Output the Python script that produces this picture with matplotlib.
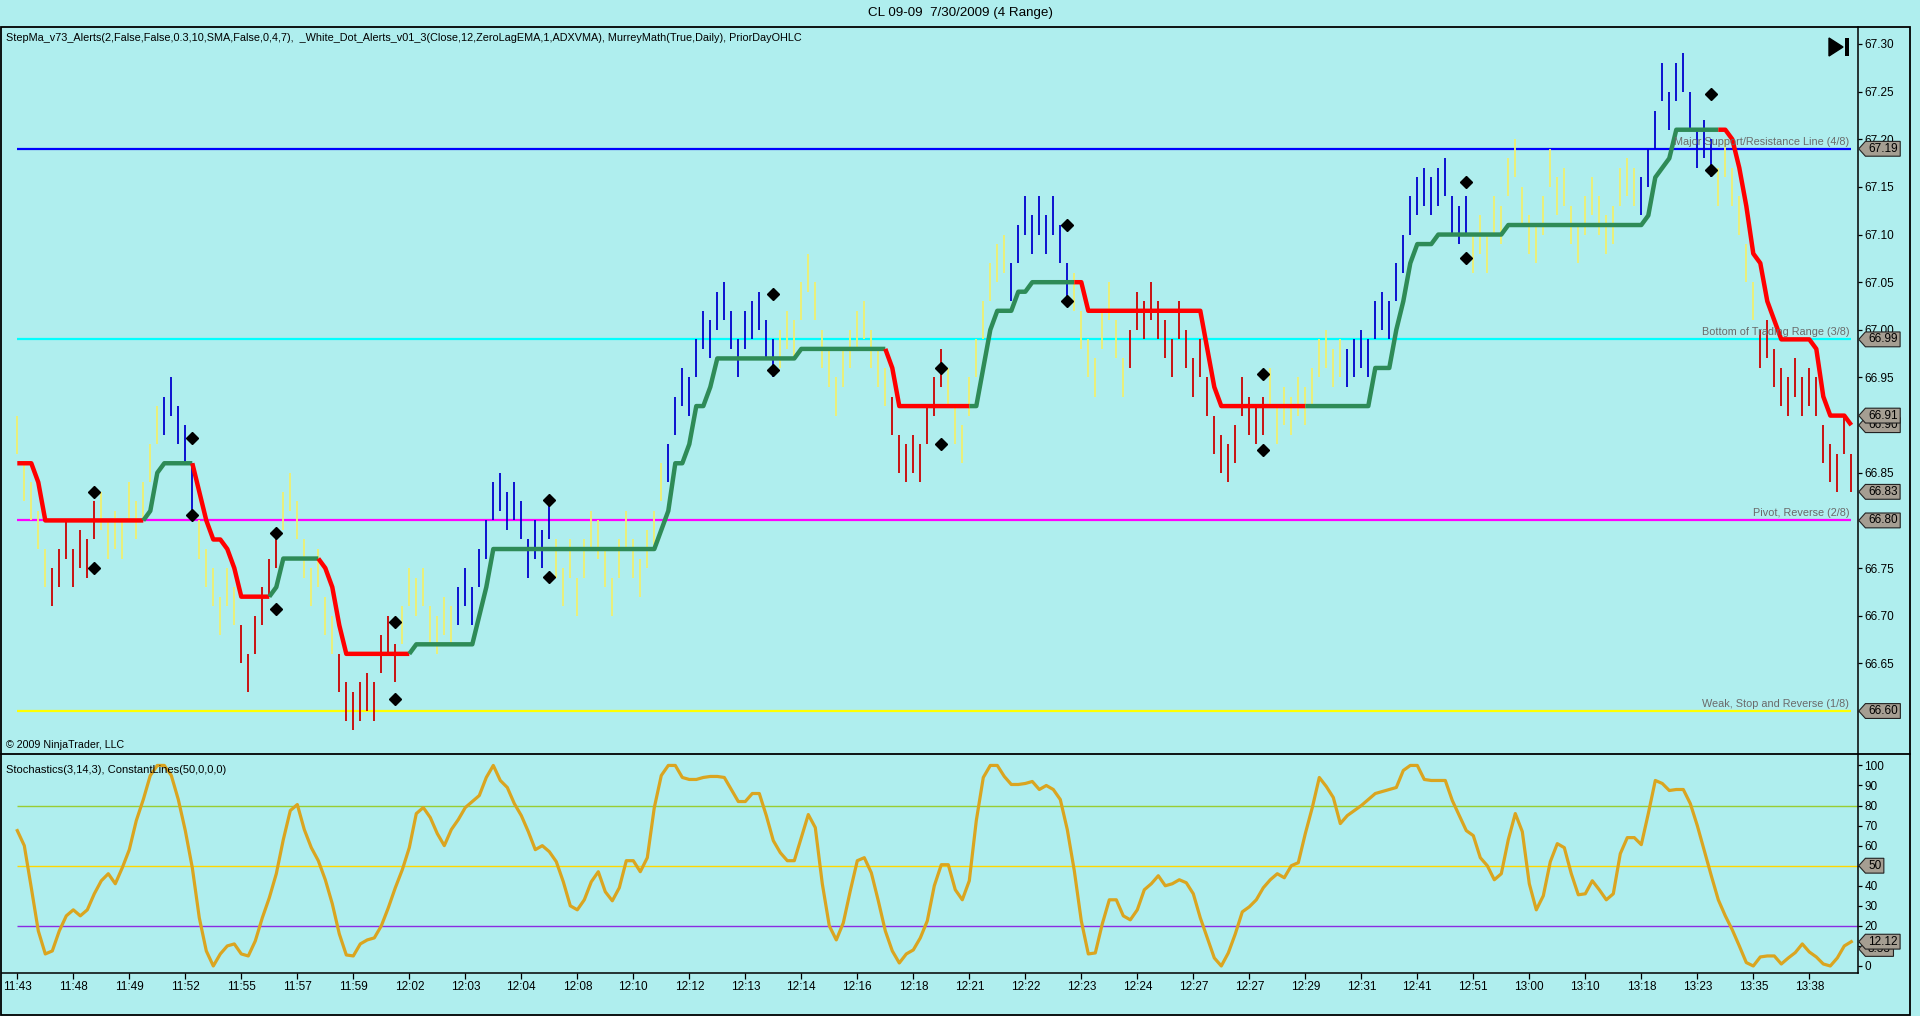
import numpy as np
import matplotlib
matplotlib.use("Agg")
import matplotlib.pyplot as plt
from matplotlib.lines import Line2D
from matplotlib.patches import Polygon, Rectangle
from matplotlib.path import Path

plt.rcParams["font.family"] = ["Liberation Sans", "DejaVu Sans"]

# ---- data (CL 09-09, 4 tick range bars) ----
bar_high = [
    66.91, 66.86, 66.84, 66.81, 66.77, 66.75, 66.77, 66.80, 66.77, 66.79,
    66.78, 66.82, 66.83, 66.80, 66.81, 66.80, 66.84, 66.82, 66.84, 66.88,
    66.92, 66.93, 66.95, 66.92, 66.90, 66.86, 66.80, 66.77, 66.75, 66.72,
    66.75, 66.73, 66.69, 66.66, 66.70, 66.73, 66.76, 66.79, 66.83, 66.85,
    66.82, 66.78, 66.75, 66.77, 66.72, 66.70, 66.66, 66.63, 66.62, 66.63,
    66.64, 66.63, 66.68, 66.70, 66.67, 66.71, 66.75, 66.74, 66.75, 66.71,
    66.70, 66.72, 66.71, 66.73, 66.75, 66.73, 66.77, 66.80, 66.84, 66.85,
    66.83, 66.84, 66.82, 66.78, 66.80, 66.79, 66.82, 66.78, 66.75, 66.78,
    66.74, 66.78, 66.81, 66.80, 66.77, 66.74, 66.78, 66.81, 66.78, 66.76,
    66.79, 66.81, 66.86, 66.88, 66.93, 66.96, 66.95, 66.99, 67.02, 67.01,
    67.04, 67.05, 67.02, 66.99, 67.02, 67.03, 67.04, 67.01, 66.99, 67.00,
    67.02, 67.01, 67.05, 67.08, 67.05, 67.00, 66.98, 66.95, 66.98, 67.00,
    67.02, 67.03, 67.00, 66.98, 66.96, 66.93, 66.89, 66.88, 66.89, 66.88,
    66.92, 66.95, 66.98, 66.96, 66.92, 66.90, 66.95, 66.99, 67.03, 67.07,
    67.09, 67.10, 67.07, 67.11, 67.14, 67.12, 67.14, 67.12, 67.14, 67.11,
    67.07, 67.06, 67.02, 66.99, 66.97, 67.02, 67.05, 67.01, 66.97, 67.00,
    67.04, 67.03, 67.05, 67.03, 67.01, 66.99, 67.03, 67.00, 66.97, 66.99,
    66.95, 66.91, 66.89, 66.88, 66.90, 66.95, 66.93, 66.92, 66.93, 66.96,
    66.92, 66.94, 66.93, 66.95, 66.94, 66.96, 66.99, 67.00, 66.98, 66.99,
    66.98, 66.99, 67.00, 66.99, 67.03, 67.04, 67.03, 67.07, 67.10, 67.14,
    67.16, 67.17, 67.16, 67.17, 67.18, 67.14, 67.13, 67.14, 67.10, 67.12,
    67.10, 67.14, 67.13, 67.18, 67.20, 67.15, 67.12, 67.11, 67.14, 67.19,
    67.16, 67.17, 67.13, 67.11, 67.14, 67.16, 67.14, 67.12, 67.13, 67.17,
    67.18, 67.17, 67.16, 67.19, 67.23, 67.28, 67.25, 67.28, 67.29, 67.25,
    67.21, 67.22, 67.20, 67.17, 67.20, 67.17, 67.14, 67.09, 67.05, 67.00,
    67.01, 66.98, 66.96, 66.95, 66.97, 66.95, 66.96, 66.95, 66.90, 66.88,
    66.87, 66.91, 66.87,
]
bar_low = [
    66.87, 66.82, 66.80, 66.77, 66.73, 66.71, 66.73, 66.76, 66.73, 66.75,
    66.74, 66.78, 66.79, 66.76, 66.77, 66.76, 66.80, 66.78, 66.80, 66.84,
    66.88, 66.89, 66.91, 66.88, 66.86, 66.81, 66.76, 66.73, 66.71, 66.68,
    66.71, 66.69, 66.65, 66.62, 66.66, 66.69, 66.72, 66.75, 66.79, 66.81,
    66.78, 66.74, 66.71, 66.73, 66.68, 66.66, 66.62, 66.59, 66.58, 66.59,
    66.60, 66.59, 66.64, 66.66, 66.63, 66.67, 66.71, 66.70, 66.71, 66.67,
    66.66, 66.68, 66.67, 66.69, 66.71, 66.69, 66.73, 66.76, 66.80, 66.81,
    66.79, 66.80, 66.78, 66.74, 66.76, 66.75, 66.78, 66.74, 66.71, 66.74,
    66.70, 66.74, 66.77, 66.76, 66.73, 66.70, 66.74, 66.77, 66.74, 66.72,
    66.75, 66.77, 66.82, 66.84, 66.89, 66.92, 66.91, 66.95, 66.98, 66.97,
    67.00, 67.01, 66.98, 66.95, 66.98, 66.99, 67.00, 66.97, 66.95, 66.96,
    66.98, 66.97, 67.01, 67.04, 67.01, 66.96, 66.94, 66.91, 66.94, 66.96,
    66.98, 66.99, 66.96, 66.94, 66.92, 66.89, 66.85, 66.84, 66.85, 66.84,
    66.88, 66.91, 66.94, 66.92, 66.88, 66.86, 66.91, 66.95, 66.99, 67.03,
    67.05, 67.06, 67.03, 67.07, 67.10, 67.08, 67.10, 67.08, 67.10, 67.07,
    67.03, 67.02, 66.98, 66.95, 66.93, 66.98, 67.01, 66.97, 66.93, 66.96,
    67.00, 66.99, 67.01, 66.99, 66.97, 66.95, 66.99, 66.96, 66.93, 66.95,
    66.91, 66.87, 66.85, 66.84, 66.86, 66.91, 66.89, 66.88, 66.89, 66.92,
    66.88, 66.90, 66.89, 66.91, 66.90, 66.92, 66.95, 66.96, 66.94, 66.95,
    66.94, 66.95, 66.96, 66.95, 66.99, 67.00, 66.99, 67.03, 67.06, 67.10,
    67.12, 67.13, 67.12, 67.13, 67.14, 67.10, 67.09, 67.10, 67.06, 67.08,
    67.06, 67.10, 67.09, 67.14, 67.16, 67.11, 67.08, 67.07, 67.10, 67.15,
    67.12, 67.13, 67.09, 67.07, 67.10, 67.12, 67.10, 67.08, 67.09, 67.13,
    67.14, 67.13, 67.12, 67.15, 67.19, 67.24, 67.21, 67.24, 67.25, 67.21,
    67.17, 67.18, 67.16, 67.13, 67.16, 67.13, 67.10, 67.05, 67.01, 66.96,
    66.97, 66.94, 66.92, 66.91, 66.93, 66.91, 66.92, 66.91, 66.86, 66.84,
    66.83, 66.87, 66.83,
]
# bar colour runs: y = neutral, b = up, r = down
bar_color_runs = [
    ("y", 5), ("r", 7), ("y", 9), ("b", 5), ("y", 6), ("r", 6), ("y", 8),
    ("r", 9), ("y", 8), ("b", 14), ("y", 16), ("b", 16), ("y", 16), ("r", 8),
    ("y", 9), ("b", 9), ("y", 8), ("r", 20), ("y", 11), ("b", 18), ("y", 24),
    ("b", 11), ("y", 6), ("r", 14),
]

step_value = [
    66.86, 66.86, 66.86, 66.84, 66.80, 66.80, 66.80, 66.80, 66.80, 66.80,
    66.80, 66.80, 66.80, 66.80, 66.80, 66.80, 66.80, 66.80, 66.80, 66.81,
    66.85, 66.86, 66.86, 66.86, 66.86, 66.86, 66.83, 66.80, 66.78, 66.78,
    66.77, 66.75, 66.72, 66.72, 66.72, 66.72, 66.72, 66.73, 66.76, 66.76,
    66.76, 66.76, 66.76, 66.76, 66.75, 66.73, 66.69, 66.66, 66.66, 66.66,
    66.66, 66.66, 66.66, 66.66, 66.66, 66.66, 66.66, 66.67, 66.67, 66.67,
    66.67, 66.67, 66.67, 66.67, 66.67, 66.67, 66.70, 66.73, 66.77, 66.77,
    66.77, 66.77, 66.77, 66.77, 66.77, 66.77, 66.77, 66.77, 66.77, 66.77,
    66.77, 66.77, 66.77, 66.77, 66.77, 66.77, 66.77, 66.77, 66.77, 66.77,
    66.77, 66.77, 66.79, 66.81, 66.86, 66.86, 66.88, 66.92, 66.92, 66.94,
    66.97, 66.97, 66.97, 66.97, 66.97, 66.97, 66.97, 66.97, 66.97, 66.97,
    66.97, 66.97, 66.98, 66.98, 66.98, 66.98, 66.98, 66.98, 66.98, 66.98,
    66.98, 66.98, 66.98, 66.98, 66.98, 66.96, 66.92, 66.92, 66.92, 66.92,
    66.92, 66.92, 66.92, 66.92, 66.92, 66.92, 66.92, 66.92, 66.96, 67.00,
    67.02, 67.02, 67.02, 67.04, 67.04, 67.05, 67.05, 67.05, 67.05, 67.05,
    67.05, 67.05, 67.05, 67.02, 67.02, 67.02, 67.02, 67.02, 67.02, 67.02,
    67.02, 67.02, 67.02, 67.02, 67.02, 67.02, 67.02, 67.02, 67.02, 67.02,
    66.98, 66.94, 66.92, 66.92, 66.92, 66.92, 66.92, 66.92, 66.92, 66.92,
    66.92, 66.92, 66.92, 66.92, 66.92, 66.92, 66.92, 66.92, 66.92, 66.92,
    66.92, 66.92, 66.92, 66.92, 66.96, 66.96, 66.96, 67.00, 67.03, 67.07,
    67.09, 67.09, 67.09, 67.10, 67.10, 67.10, 67.10, 67.10, 67.10, 67.10,
    67.10, 67.10, 67.10, 67.11, 67.11, 67.11, 67.11, 67.11, 67.11, 67.11,
    67.11, 67.11, 67.11, 67.11, 67.11, 67.11, 67.11, 67.11, 67.11, 67.11,
    67.11, 67.11, 67.11, 67.12, 67.16, 67.17, 67.18, 67.21, 67.21, 67.21,
    67.21, 67.21, 67.21, 67.21, 67.21, 67.20, 67.17, 67.13, 67.08, 67.07,
    67.03, 67.01, 66.99, 66.99, 66.99, 66.99, 66.99, 66.98, 66.93, 66.91,
    66.91, 66.91, 66.90,
]
# StepMA trend runs: r = falling, g = rising
step_color_runs = [
    ("r", 19), ("g", 7), ("r", 11), ("g", 7), ("r", 13), ("g", 68), ("r", 12),
    ("g", 15), ("r", 33), ("g", 59), ("r", 19),
]

stoch_k = [
    67.5, 60, 39, 17.5, 6, 7.5, 17.5, 25, 28, 25,
    28, 36, 42.5, 46, 41, 49, 58, 72.5, 83, 95,
    100, 100, 95, 83, 67.5, 49, 24, 7.5, 0, 6,
    10, 11, 6, 5, 12.5, 24, 34, 46, 63, 77.5,
    80.5, 68, 59, 52.5, 43, 31, 16, 5.5, 5, 11,
    13, 14, 20, 29, 39, 48, 59, 76, 79, 74,
    66, 60, 68, 73, 79, 82, 85, 94, 100, 92.5,
    89, 81, 75, 67, 58, 60, 57, 52, 42, 30,
    28, 33, 42, 47, 37, 32.5, 39, 52.5, 52.5, 47,
    54, 79, 95, 100, 100, 94, 93, 93, 94, 94.5,
    94.5, 94, 88, 82, 82, 86, 86, 75, 62.5, 56.5,
    52.5, 52.5, 64, 75.5, 69, 41, 20, 13, 21.5, 37.5,
    52.5, 54, 46.5, 32.5, 17.5, 7.5, 1.5, 6, 8, 14,
    22.5, 40, 50.5, 50.5, 38, 33, 42.5, 72.5, 94, 100,
    100, 94.5, 90.5, 90.5, 91, 92, 88, 90, 88, 83,
    68, 47.5, 22.5, 6, 6.5, 21, 33, 33, 25, 23,
    28, 38, 41, 45, 40, 41, 43, 41.5, 36, 24,
    14, 4, 0, 6.5, 16, 27, 29.5, 33, 39, 43,
    46, 44, 50, 51.5, 66, 79, 94, 89.5, 84, 71,
    75, 77.5, 80, 83, 86, 87, 88, 89, 97.5, 100,
    100, 93, 92.5, 92.5, 92.5, 82.5, 75, 67.5, 65, 54,
    50, 43, 46, 63, 76, 67, 41, 28, 35, 52,
    61, 59, 46, 35.5, 36, 42.5, 38, 33, 36, 56,
    64, 64, 60.5, 76, 92.5, 91, 87.5, 88, 88, 81,
    70, 57.5, 45, 33, 25, 18, 10, 1.7, 0, 4.5,
    5, 5, 1, 4, 6.7, 11, 7, 4.5, 1, 0,
    4, 10, 12.12,
]

diamond_bar = [11, 11, 25, 25, 37, 37, 54, 54, 76, 76, 108, 108,
               132, 132, 150, 150, 178, 178, 207, 207, 242, 242]
diamond_price = [66.830, 66.750, 66.886, 66.806, 66.787, 66.707, 66.693, 66.613,
                 66.821, 66.741, 67.038, 66.958, 66.960, 66.880, 67.110, 67.030,
                 66.954, 66.874, 67.155, 67.075, 67.248, 67.168]

murrey_values = [67.19, 66.99, 66.80, 66.60]
murrey_labels = ["Major Support/Resistance Line (4/8)", "Bottom of Trading Range (3/8)",
                 "Pivot, Reverse (2/8)", "Weak, Stop and Reverse (1/8)"]
murrey_colors = ["#0000FF", "#00FFFF", "#FF00FF", "#FFFF00"]

price_ticks = [67.30, 67.25, 67.20, 67.15, 67.10, 67.05, 67.00, 66.95,
               66.90, 66.85, 66.80, 66.75, 66.70, 66.65, 66.60]
price_tags = [67.19, 66.99, 66.90, 66.91, 66.83, 66.80, 66.60]
stoch_ticks = [0, 10, 20, 30, 40, 50, 60, 70, 80, 90, 100]
stoch_levels = [80, 50, 20]
stoch_level_colors = ["#9ACD32", "#FFD700", "#8A2BE2"]
stoch_tags = [("50", 50.0), ("8.53", 8.5), ("12.12", 12.12)]

time_labels = ["11:43", "11:48", "11:49", "11:52", "11:55", "11:57", "11:59", "12:02",
               "12:03", "12:04", "12:08", "12:10", "12:12", "12:13", "12:14", "12:16",
               "12:18", "12:21", "12:22", "12:23", "12:24", "12:27", "12:27", "12:29",
               "12:31", "12:41", "12:51", "13:00", "13:10", "13:18", "13:23", "13:35",
               "13:38"]
LABEL_EVERY = 8

# ---- layout (pixels of the 1920x1016 canvas) ----
W, H, DPI = 1920, 1016, 100
BG = "#AFEEEE"
BAR_COLORS = {"y": "#F0F070", "b": "#0000CD", "r": "#CC0000"}
STEP_COLORS = {"r": "#FF0000", "g": "#2E8B57"}
LEFT, AXIS_X, RIGHT = 2, 1858, 1910
TOP, SPLIT, XAXIS_Y, BOTTOM = 27, 754, 973, 1015
FIRST_BAR_PX, BAR_PX = 17.3, 7.0


def fx(px):
    return px / W


def fy(py):
    return 1 - py / H


def tag_box(x0, y0, width, height, mutation_size):
    p = 0.22 * mutation_size
    x0, x1 = x0 - p, x0 + width + p
    y0, y1 = y0 - 0.12 * mutation_size, y0 + height + 0.12 * mutation_size
    tip = x0 - 0.45 * (y1 - y0)
    ym = 0.5 * (y0 + y1)
    return Path([(tip, ym), (x0, y1), (x1, y1), (x1, y0), (x0, y0), (tip, ym)], closed=True)


def add_tag(ax, value, text, size=8.5):
    ax.annotate(text, xy=(1, value), xycoords=ax.get_yaxis_transform(),
                xytext=(10, 0), textcoords="offset pixels", ha="left", va="center",
                fontsize=size, color="black", zorder=10, annotation_clip=False,
                bbox=dict(boxstyle=tag_box, fc="#A59E92", ec="#222222", lw=0.8))


fig = plt.figure(figsize=(W / DPI, H / DPI), dpi=DPI, facecolor=BG)
axw = AXIS_X - LEFT
ax_p = fig.add_axes([fx(LEFT), fy(SPLIT), fx(axw), (SPLIT - TOP) / H], facecolor=BG)
ax_s = fig.add_axes([fx(LEFT), fy(XAXIS_Y), fx(axw), (XAXIS_Y - SPLIT) / H], facecolor=BG)

n = len(bar_high)
x = np.arange(n)
x0_bar = (FIRST_BAR_PX - LEFT) / BAR_PX
xlim = (-x0_bar, (axw - (FIRST_BAR_PX - LEFT)) / BAR_PX)

# ---- price panel ----
for val, lab, col in zip(murrey_values, murrey_labels, murrey_colors):
    ax_p.hlines(val, 0, n - 1, color=col, lw=1.6, zorder=1)
    ax_p.annotate(lab, xy=(n - 1.3, val), xytext=(0, 2), textcoords="offset pixels",
                  ha="right", va="bottom", fontsize=7.8, color="#6A6A6A", zorder=6)

bar_colors = []
for code, count in bar_color_runs:
    bar_colors += [BAR_COLORS[code]] * count
ax_p.vlines(x, bar_low, bar_high, colors=bar_colors, lw=1.3, zorder=2)

start = 0
for code, count in step_color_runs:
    end = start + count
    lo = max(start - 1, 0)
    ax_p.plot(x[lo:end], step_value[lo:end], color=STEP_COLORS[code], lw=3.2,
              solid_capstyle="butt", solid_joinstyle="round", zorder=3)
    start = end

ax_p.plot(diamond_bar, diamond_price, ls="none", marker="D", ms=6.5, color="black", zorder=5)

ax_p.set_xlim(*xlim)
ax_p.set_ylim(66.5549, 67.3178)
ax_p.yaxis.tick_right()
ax_p.set_yticks(price_ticks)
ax_p.set_yticklabels([f"{t:.2f}" for t in price_ticks])
ax_p.tick_params(axis="y", direction="out", length=3, width=0.9, pad=1.5, labelsize=8.5, colors="black")
ax_p.set_xticks([])
for tag in price_tags:
    add_tag(ax_p, tag, f"{tag:.2f}")

for side in ("left", "top", "bottom"):
    ax_p.spines[side].set_visible(False)
ax_p.spines["right"].set_linewidth(1.1)

ax_p.text(4 / axw, 1 - 11 / (SPLIT - TOP),
          "StepMa_v73_Alerts(2,False,False,0.3,10,SMA,False,0,4,7),  _White_Dot_Alerts_v01_3"
          "(Close,12,ZeroLagEMA,1,ADXVMA), MurreyMath(True,Daily), PriorDayOHLC",
          transform=ax_p.transAxes, ha="left", va="center", fontsize=7.8, color="black")
ax_p.text(4 / axw, 9 / (SPLIT - TOP), "\u00a9 2009 NinjaTrader, LLC",
          transform=ax_p.transAxes, ha="left", va="center", fontsize=7.7, color="black")

# ---- stochastics panel ----
ax_s.hlines(stoch_levels, 0, xlim[1], colors=stoch_level_colors, lw=1.0, zorder=1)
ax_s.plot(x, stoch_k, color="#DAA520", lw=2.3, solid_joinstyle="round", zorder=3)
ax_s.set_xlim(*xlim)
ax_s.set_ylim(-3.5, 105.7)
ax_s.yaxis.tick_right()
ax_s.set_yticks(stoch_ticks)
ax_s.tick_params(axis="y", direction="out", length=3, width=0.9, pad=1.5, labelsize=8.5, colors="black")
ax_s.set_xticks(x[::LABEL_EVERY][:len(time_labels)])
ax_s.set_xticklabels(time_labels)
ax_s.tick_params(axis="x", direction="out", length=4.5, width=0.9, pad=1.5, labelsize=8.5, colors="black")
for lab, val in stoch_tags:
    add_tag(ax_s, val, lab)
for side in ("left", "top"):
    ax_s.spines[side].set_visible(False)
ax_s.spines["right"].set_linewidth(1.1)
ax_s.spines["bottom"].set_linewidth(1.1)
ax_s.text(4 / axw, 1 - 16 / (XAXIS_Y - SPLIT), "Stochastics(3,14,3), ConstantLines(50,0,0,0)",
          transform=ax_s.transAxes, ha="left", va="center", fontsize=8, color="black")

# ---- frame, title and the end-of-chart button ----
fig.add_artist(Rectangle((fx(1), fy(BOTTOM)), fx(RIGHT - 1), fy(TOP) - fy(BOTTOM),
                         transform=fig.transFigure, fill=False, ec="black", lw=1.3))
fig.add_artist(Line2D([fx(1), fx(RIGHT)], [fy(SPLIT), fy(SPLIT)], transform=fig.transFigure,
                      color="black", lw=1.3))
fig.text(0.5, fy(13), "CL 09-09  7/30/2009 (4 Range)", ha="center", va="center",
         fontsize=9.6, color="black")
fig.add_artist(Polygon([(fx(1829), fy(38)), (fx(1829), fy(56)), (fx(1843), fy(47))],
                       closed=True, transform=fig.transFigure, fc="black", ec="black"))
fig.add_artist(Rectangle((fx(1845), fy(56)), fx(3.5), fy(38) - fy(56),
                         transform=fig.transFigure, fc="black", ec="none"))

fig.savefig("out.png", dpi=DPI, facecolor=BG)
